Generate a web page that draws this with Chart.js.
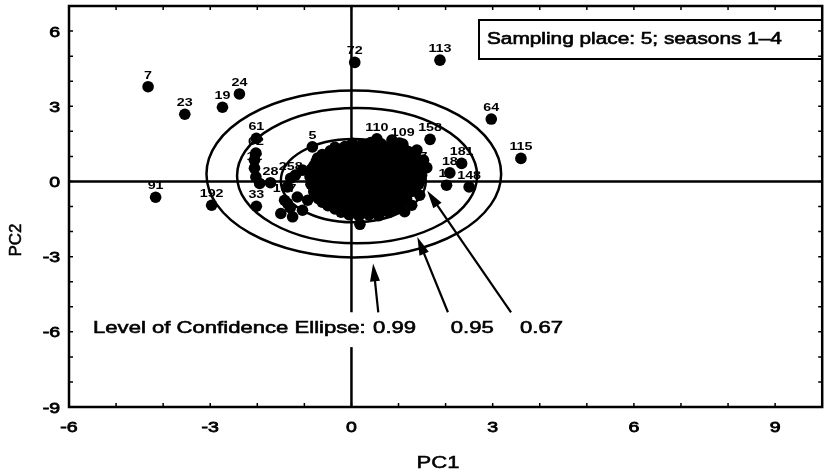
<!DOCTYPE html>
<html>
<head>
<meta charset="utf-8">
<script src="https://cdn.jsdelivr.net/npm/chart.js@4"></script>
<style>
html,body{margin:0;padding:0;background:#fff;}
</style>
</head>
<body>
<canvas id="pca" width="828" height="475"></canvas>
<script>
// named samples (PC1, PC2)
const namedText = ['7','23','19','24','72','113','64','115','91','192','61','33','5','110','109','158','181','18','17','148','7','62','12','28','258','137'];
const namedX = [-4.32,-3.54,-2.74,-2.38,0.07,1.88,2.97,3.60,-4.16,-2.97,-2.02,-2.02,-0.83,0.54,1.09,1.67,2.34,2.09,2.02,2.50,1.53,-2.03,-2.06,-1.72,-1.29,-1.42];
const namedY = [3.78,2.68,2.96,3.49,4.75,4.84,2.49,0.92,-0.63,-0.95,1.72,-0.99,1.38,1.70,1.49,1.68,0.72,0.34,-0.15,-0.22,0.53,1.13,0.53,-0.05,0.13,-0.75];

// the dense cloud round the origin, estimated by eye
const clusterPts = [
  [-1.36,-0.22],[-1.50,-1.28],[-1.25,-1.41],[-1.04,-1.15],[-1.15,-0.62],[-2.03,0.18],[-2.06,0.85],
  [-1.95,-0.08],[-1.19,0.25],[-1.04,0.45],[-0.93,-0.75],[-0.72,-0.35],[-1.36,-0.87],[-1.30,-1.05],
  [1.13,-1.21],[0.18,-1.71],[1.39,1.25],[1.49,0.25],[1.45,-0.55],[1.28,-0.95],[1.53,0.85],
  [0.86,1.65],[0.25,1.37],[1.60,0.55],
  [0.02,1.52],[0.22,1.47],[0.41,1.55],[0.63,1.5],[0.84,1.44],[1.02,1.53],
  [-0.45,1.22],[-0.25,1.28],[-0.04,1.2],[0.17,1.26],[0.38,1.23],[0.58,1.3],[0.79,1.21],[1.0,1.27],[1.21,1.19],
  [-0.72,0.93],[-0.52,0.98],[-0.31,0.9],[-0.1,0.97],[0.12,0.92],[0.33,0.99],[0.52,0.94],[0.74,0.9],[0.95,0.98],[1.15,0.92],[1.36,0.96],
  [-0.8,0.62],[-0.6,0.68],[-0.38,0.63],[-0.18,0.67],[0.03,0.61],[0.24,0.66],[0.45,0.7],[0.66,0.62],[0.86,0.67],[1.07,0.63],[1.28,0.68],[1.46,0.6],
  [-0.85,0.33],[-0.64,0.38],[-0.43,0.31],[-0.22,0.36],[-0.01,0.39],[0.2,0.32],[0.41,0.36],[0.62,0.3],[0.83,0.37],[1.04,0.34],[1.25,0.38],[1.44,0.31],
  [-0.82,0.04],[-0.61,0.08],[-0.4,0.02],[-0.19,0.06],[0.02,0.01],[0.23,0.07],[0.44,0.03],[0.65,0.09],[0.86,0.02],[1.07,0.06],[1.28,0.0],[1.47,0.05],
  [-0.8,-0.27],[-0.59,-0.22],[-0.38,-0.28],[-0.17,-0.23],[0.04,-0.26],[0.25,-0.21],[0.46,-0.29],[0.67,-0.24],[0.88,-0.27],[1.09,-0.22],[1.3,-0.26],
  [-0.75,-0.53],[-0.54,-0.58],[-0.33,-0.52],[-0.12,-0.57],[0.09,-0.54],[0.3,-0.59],[0.51,-0.52],[0.72,-0.56],[0.93,-0.53],[1.14,-0.58],
  [-0.62,-0.83],[-0.41,-0.88],[-0.2,-0.84],[0.01,-0.87],[0.22,-0.82],[0.43,-0.89],[0.64,-0.85],[0.85,-0.81],[1.06,-0.86],
  [-0.35,-1.1],[-0.14,-1.15],[0.07,-1.11],[0.28,-1.16],[0.49,-1.09],[0.7,-1.14],[0.91,-1.1],
  [-0.05,-1.33],[0.16,-1.38],[0.37,-1.34],[0.58,-1.37],
  [-0.35,1.36],[-0.14,1.39],[0.07,1.35],[0.28,1.4],[0.49,1.37],[0.7,1.34],[0.91,1.38],[1.1,1.36],
  [-0.62,1.07],[-0.41,1.1],[-0.2,1.05],[0.01,1.09],[0.22,1.06],[0.43,1.11],[0.64,1.08],[0.85,1.04],[1.06,1.1],[1.26,1.07],
  [-0.75,0.79],[-0.55,0.82],[-0.34,0.77],[-0.13,0.81],[0.08,0.78],[0.29,0.83],[0.5,0.8],[0.71,0.76],[0.92,0.82],[1.13,0.79],[1.34,0.81],
  [-0.85,0.49],[-0.64,0.52],[-0.43,0.47],[-0.22,0.51],[-0.01,0.48],[0.2,0.53],[0.41,0.5],[0.62,0.46],[0.83,0.52],[1.04,0.49],[1.25,0.51],[1.45,0.47],
  [-0.88,0.19],[-0.67,0.22],[-0.46,0.17],[-0.25,0.21],[-0.04,0.18],[0.17,0.23],[0.38,0.2],[0.59,0.16],[0.8,0.22],[1.01,0.19],[1.22,0.21],[1.42,0.17],
  [-0.86,-0.11],[-0.65,-0.08],[-0.44,-0.12],[-0.23,-0.09],[-0.02,-0.13],[0.19,-0.08],[0.4,-0.11],[0.61,-0.14],[0.82,-0.09],[1.03,-0.12],[1.24,-0.1],[1.42,-0.13],
  [-0.8,-0.41],[-0.59,-0.38],[-0.38,-0.42],[-0.17,-0.39],[0.04,-0.43],[0.25,-0.38],[0.46,-0.41],[0.67,-0.44],[0.88,-0.39],[1.09,-0.42],[1.28,-0.4],
  [-0.7,-0.69],[-0.49,-0.72],[-0.28,-0.68],[-0.07,-0.71],[0.14,-0.67],[0.35,-0.73],[0.56,-0.7],[0.77,-0.68],[0.98,-0.72],[1.17,-0.69],
  [-0.5,-0.97],[-0.29,-1.0],[-0.08,-0.96],[0.13,-0.99],[0.34,-0.95],[0.55,-1.01],[0.76,-0.98],[0.97,-0.96],
  [-0.22,-1.23],[-0.01,-1.26],[0.2,-1.22],[0.41,-1.25],[0.62,-1.21],[0.8,-1.24]
];

// confidence ellipses, outer to inner
const ellipseLevels = ['0.99','0.95','0.67'];
const ellipseCx = [0.05, 0.12, 0.04];
const ellipseCy = [0.30, 0.23, 0.03];
const ellipseRx = [3.13, 2.55, 1.54];
const ellipseRy = [3.33, 2.70, 1.66];

const xLabelled = [-6,-3,0,3,6,9];
const yLabelled = [-9,-6,-3,0,3,6];

const FONT = "'Liberation Sans', Arial, sans-serif";
const SX = 1.3;   // scanned lettering is wider than Arial

function wideText(ctx, str, x, y, size, weight, align, heavy) {
  ctx.save();
  ctx.translate(x, y);
  ctx.scale(SX, 1);
  ctx.font = weight + ' ' + size + 'px ' + FONT;
  ctx.textAlign = align || 'left';
  ctx.textBaseline = 'alphabetic';
  ctx.fillStyle = '#000';
  ctx.fillText(str, 0, 0);
  if (heavy) {
    ctx.strokeStyle = '#000';
    ctx.lineWidth = heavy;
    ctx.strokeText(str, 0, 0);
  }
  ctx.restore();
}

function arrow(ctx, x0, y0, x1, y1) {
  const a = Math.atan2(y1 - y0, x1 - x0);
  const c = Math.cos(a), s = Math.sin(a);
  const len = 18, half = 5;
  ctx.beginPath();
  ctx.moveTo(x0, y0);
  ctx.lineTo(x1 - c * len * 0.6, y1 - s * len * 0.6);
  ctx.stroke();
  ctx.beginPath();
  ctx.moveTo(x1, y1);
  ctx.lineTo(x1 - c * len + s * half, y1 - s * len - c * half);
  ctx.lineTo(x1 - c * len - s * half, y1 - s * len + c * half);
  ctx.closePath();
  ctx.fill();
}

const pcaDecor = {
  id: 'pcaDecor',
  beforeDatasetsDraw(chart) {
    const {ctx, chartArea: a, scales: {x, y}} = chart;
    ctx.save();
    ctx.beginPath();
    ctx.rect(a.left, a.top, a.width, a.height);
    ctx.clip();
    ctx.strokeStyle = '#000';
    ctx.lineWidth = 2.5;
    ellipseCx.forEach((cx, i) => {
      const px = x.getPixelForValue(cx), py = y.getPixelForValue(ellipseCy[i]);
      const rx = x.getPixelForValue(cx + ellipseRx[i]) - px;
      const ry = py - y.getPixelForValue(ellipseCy[i] + ellipseRy[i]);
      ctx.beginPath();
      ctx.ellipse(px, py, rx, ry, 0, 0, Math.PI * 2);
      ctx.stroke();
    });
    ctx.restore();
  },
  afterDatasetsDraw(chart) {
    const {ctx, chartArea: a, scales: {x, y}} = chart;
    ctx.save();
    ctx.fillStyle = '#000';
    ctx.strokeStyle = '#000';

    // sample numbers above the dots
    const meta = chart.getDatasetMeta(2);
    namedText.forEach((t, i) => {
      const el = meta.data[i];
      wideText(ctx, t, el.x, el.y - 8, 11, 'bold', 'center');
    });

    // confidence note with arrows
    const top = y.getPixelForValue(-5.22), bot = y.getPixelForValue(-6.61);
    ctx.fillStyle = '#fff';
    ctx.fillRect(x.getPixelForValue(-5.6), top, x.getPixelForValue(4.6) - x.getPixelForValue(-5.6), bot - top);
    ctx.fillStyle = '#000';
    const base = y.getPixelForValue(-6.06);
    wideText(ctx, 'Level of Confidence Ellipse:', x.getPixelForValue(-5.49), base, 17, 'normal', 'left', 0.6);
    const noteX = [0.46, 2.11, 3.58];
    ellipseLevels.forEach((t, i) => wideText(ctx, t, x.getPixelForValue(noteX[i]), base, 17, 'normal', 'left', 0.6));
    ctx.strokeStyle = '#000';
    ctx.lineWidth = 2.2;
    arrow(ctx, x.getPixelForValue(0.57), top, x.getPixelForValue(0.46), y.getPixelForValue(-3.27));
    arrow(ctx, x.getPixelForValue(2.05), top, x.getPixelForValue(1.40), y.getPixelForValue(-2.22));
    arrow(ctx, x.getPixelForValue(3.39), top, x.getPixelForValue(1.61), y.getPixelForValue(-0.37));

    // caption box
    ctx.fillStyle = '#fff';
    ctx.fillRect(479, 20, 343, 39);
    ctx.strokeStyle = '#000';
    ctx.lineWidth = 2;
    ctx.strokeRect(479, 20, 343, 39);
    wideText(ctx, 'Sampling place: 5; seasons 1\u20134', 487, 44, 16, 'normal', 'left', 0.6);

    // frame and inward ticks
    ctx.strokeStyle = '#000';
    ctx.lineWidth = 2.5;
    ctx.strokeRect(a.left, a.top, a.width, a.height);
    ctx.lineWidth = 1.5;
    ctx.beginPath();
    x.ticks.forEach(t => {
      const px = x.getPixelForValue(t.value);
      ctx.moveTo(px, a.bottom); ctx.lineTo(px, a.bottom - 4);
      ctx.moveTo(px, a.top); ctx.lineTo(px, a.top + 4);
    });
    y.ticks.forEach(t => {
      const py = y.getPixelForValue(t.value);
      ctx.moveTo(a.left, py); ctx.lineTo(a.left + 4, py);
      ctx.moveTo(a.right, py); ctx.lineTo(a.right - 4, py);
    });
    ctx.stroke();

    // tick labels
    xLabelled.forEach(v => wideText(ctx, String(v), x.getPixelForValue(v), a.bottom + 25, 15, 'normal', 'center', 0.8));
    yLabelled.forEach(v => wideText(ctx, String(v), a.left - 9, y.getPixelForValue(v) + 5.5, 15, 'normal', 'right', 0.8));

    // axis titles
    wideText(ctx, 'PC1', 438, 468, 17, 'normal', 'center', 0.5);
    ctx.save();
    ctx.translate(21, 240);
    ctx.rotate(-Math.PI / 2);
    ctx.font = 'normal 17px ' + FONT;
    ctx.textAlign = 'center';
    ctx.fillStyle = '#000';
    ctx.fillText('PC2', 0, 0);
    ctx.lineWidth = 0.5;
    ctx.strokeText('PC2', 0, 0);
    ctx.restore();
    ctx.restore();
  }
};

new Chart(document.getElementById('pca'), {
  type: 'scatter',
  data: {
    datasets: [
      {
        type: 'line',
        data: [{x: -6, y: 0}, {x: 10, y: 0}],
        borderColor: '#000', borderWidth: 2.5, pointRadius: 0, order: 3
      },
      {
        type: 'line',
        data: [{x: 0, y: 7}, {x: 0, y: -9}],
        borderColor: '#000', borderWidth: 2.5, pointRadius: 0, order: 2
      },
      {
        data: namedX.map((v, i) => ({x: v, y: namedY[i]})).concat(clusterPts.map(p => ({x: p[0], y: p[1]}))),
        backgroundColor: '#000', borderWidth: 0, pointRadius: 5.8, order: 1
      }
    ]
  },
  options: {
    responsive: false,
    animation: false,
    devicePixelRatio: 1,
    layout: {padding: {top: 6, right: 1, left: 0, bottom: 0}},
    plugins: {legend: {display: false}, tooltip: {enabled: false}},
    scales: {
      x: {
        type: 'linear', min: -6, max: 10,
        afterFit(s) { s.height = 68; },
        grid: {display: false, drawTicks: false},
        border: {display: false},
        ticks: {stepSize: 1, autoSkip: false, display: false}
      },
      y: {
        type: 'linear', min: -9, max: 7,
        afterFit(s) { s.width = 69; },
        grid: {display: false, drawTicks: false},
        border: {display: false},
        ticks: {stepSize: 1, autoSkip: false, display: false}
      }
    }
  },
  plugins: [pcaDecor]
});
</script>
</body>
</html>
